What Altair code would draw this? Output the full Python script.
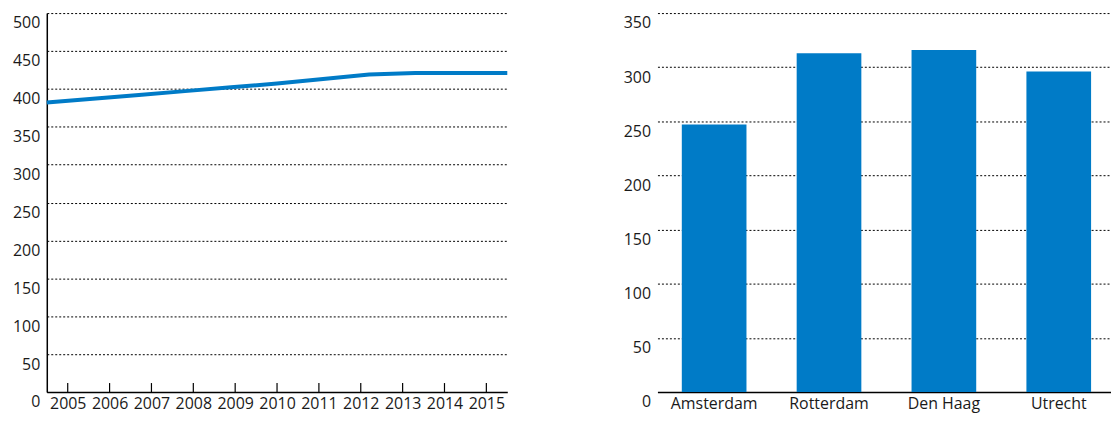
import altair as alt
import pandas as pd

# ---- data ----
years = [str(y) for y in range(2005, 2016)]
line_values = [382, 387, 392, 397, 402, 407, 413, 419, 421, 421, 421]
cities = ["Amsterdam", "Rotterdam", "Den Haag", "Utrecht"]
city_values = [247, 313, 316, 296]
y_ticks_left = list(range(0, 501, 50))
y_ticks_right = list(range(0, 351, 50))

BLUE = "#007bc7"
FONT = "Open Sans"
H = 381

line_df = pd.DataFrame({"pos": list(range(len(years))), "value": line_values})
year_df = pd.DataFrame({"year": years})
bar_df = pd.DataFrame({"city": cities, "value": city_values})

grid_kw = dict(grid=True, gridColor="#000", gridDash=[2, 2], gridWidth=1)

# ---- left: line chart ----
y_left = alt.Y(
    "value:Q",
    scale=alt.Scale(domain=[0, 500], nice=False),
    axis=alt.Axis(values=y_ticks_left, title=None, ticks=False, domain=True,
                  domainColor="#000", domainWidth=1.5, labelPadding=7,
                  labelBaseline="top", labelOffset=2, minExtent=39, maxExtent=39,
                  **grid_kw),
)

line = alt.Chart(line_df).mark_line(color=BLUE, strokeWidth=4).encode(
    x=alt.X("pos:Q", scale=alt.Scale(domain=[0, len(years) - 1], nice=False, zero=False), axis=None),
    y=y_left,
)

year_ticks = alt.Chart(year_df).mark_rule(color="#000", strokeWidth=1.2).encode(
    x=alt.X("year:O", sort=years, scale=alt.Scale(type="point", padding=0.5),
            axis=alt.Axis(title=None, ticks=False, domain=True, domainColor="#000",
                          domainWidth=1.5, labelPadding=4, labelAngle=0)),
    y=alt.value(H - 9),
    y2=alt.value(H),
)

left = alt.layer(year_ticks, line).resolve_scale(x="independent").properties(width=463, height=H)

# ---- right: bar chart ----
bars = alt.Chart(bar_df).mark_bar(color=BLUE).encode(
    x=alt.X("city:N", sort=cities,
            scale=alt.Scale(paddingInner=0.437, paddingOuter=0.1926, align=0.55),
            axis=alt.Axis(title=None, ticks=False, domain=True, domainColor="#000",
                          domainWidth=1.5, labelPadding=4, labelAngle=0)),
    y=alt.Y("value:Q", scale=alt.Scale(domain=[0, 350], nice=False),
            axis=alt.Axis(values=y_ticks_right, title=None, ticks=False, domain=False,
                          labelPadding=7, labelBaseline="top", labelOffset=2,
                          minExtent=40, maxExtent=40, **grid_kw)),
).properties(width=456, height=H)

chart = alt.hconcat(left, bars, spacing=103).properties(
    padding={"left": 0, "top": 4, "right": 0, "bottom": 0}
).configure_view(stroke=None).configure_axis(
    labelFont=FONT, labelFontSize=16, labelColor="#1a1a1a"
)

chart.save("out.html", embed_options={"renderer": "svg", "actions": False})
